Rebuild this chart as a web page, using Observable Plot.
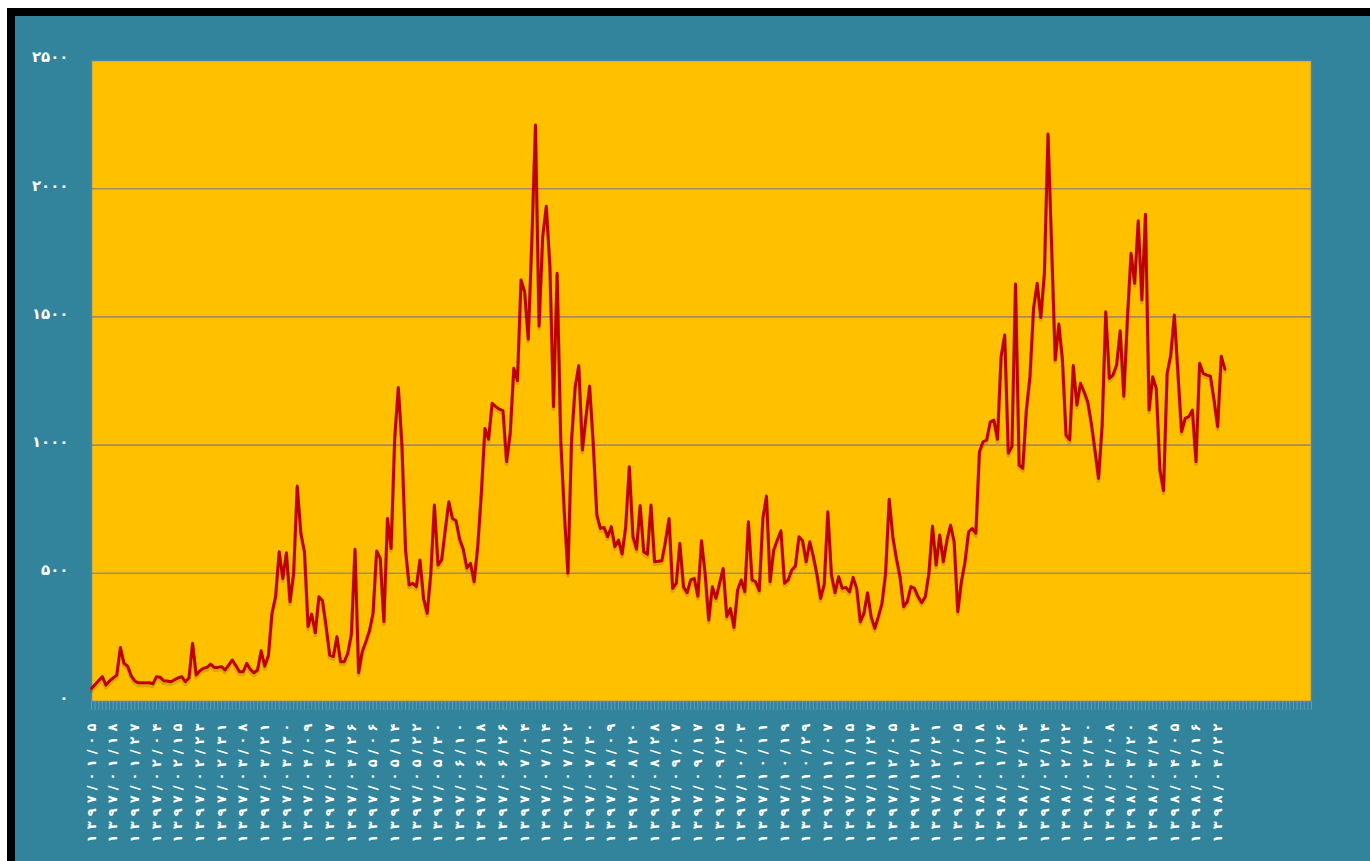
<!DOCTYPE html>
<html><head><meta charset="utf-8">
<script src="https://cdn.jsdelivr.net/npm/d3@7"></script>
<script src="https://cdn.jsdelivr.net/npm/@observablehq/plot@0.6"></script>
<style>
html,body{margin:0;padding:0;background:#fff;width:1370px;height:861px;overflow:hidden;}
#frame{position:absolute;left:7px;top:8px;width:1363px;height:853px;background:#000;}
#chart{position:absolute;left:15px;top:16px;width:1355px;height:845px;background:#31849B;}
</style></head><body><div id="frame"></div><div id="chart"></div>
<script>
const values = [
  51, 66, 82, 97, 64, 80, 92, 103, 211, 149,
  138, 100, 80, 73, 73, 73, 73, 69, 97, 95,
  81, 80, 77, 85, 92, 97, 77, 92, 227, 103,
  120, 130, 133, 146, 133, 133, 136, 123, 142, 162,
  140, 116, 116, 149, 125, 112, 123, 198, 138, 178,
  344, 409, 584, 480, 580, 389, 500, 840, 656, 584,
  292, 341, 268, 409, 393, 292, 181, 175, 253, 155,
  155, 188, 263, 594, 112, 194, 233, 276, 344, 587,
  558, 311, 714, 597, 1026, 1225, 1000, 591, 454, 461,
  448, 552, 402, 344, 500, 766, 532, 552, 669, 779,
  714, 705, 633, 594, 521, 539, 467, 604, 812, 1065,
  1023, 1163, 1150, 1140, 1134, 935, 1046, 1300, 1251, 1644,
  1598, 1413, 1800, 2248, 1464, 1813, 1932, 1696, 1150, 1670,
  1020, 734, 500, 1020, 1228, 1310, 981, 1111, 1230, 1007,
  727, 675, 679, 643, 682, 604, 630, 575, 682, 916,
  643, 594, 764, 584, 574, 766, 545, 547, 549, 623,
  714, 441, 461, 617, 448, 424, 474, 480, 411, 627,
  500, 318, 448, 402, 461, 519, 331, 363, 289, 435,
  474, 428, 701, 474, 467, 432, 714, 801, 467, 591,
  630, 666, 461, 474, 513, 528, 643, 627, 545, 623,
  565, 494, 402, 457, 740, 494, 424, 487, 441, 445,
  428, 484, 441, 311, 344, 424, 331, 285, 331, 383,
  500, 789, 643, 558, 487, 370, 389, 448, 441, 409,
  385, 409, 500, 684, 532, 649, 545, 630, 688, 623,
  350, 467, 545, 662, 675, 656, 974, 1013, 1020, 1091,
  1098, 1023, 1345, 1429, 968, 994, 1628, 922, 909, 1137,
  1267, 1534, 1631, 1498, 1670, 2213, 1774, 1332, 1472, 1332,
  1039, 1020, 1310, 1156, 1241, 1208, 1169, 1085, 981, 870,
  1078, 1520, 1260, 1273, 1312, 1446, 1191, 1494, 1748, 1631,
  1875, 1566, 1900, 1137, 1267, 1221, 903, 822, 1280, 1351,
  1507, 1280, 1052, 1104, 1111, 1137, 935, 1319, 1280, 1273,
  1269, 1176, 1072, 1347, 1296
];

const dateLabels = [
  "۱۳۹۷/۰۱/۰۵","۱۳۹۷/۰۱/۱۸","۱۳۹۷/۰۱/۲۷","۱۳۹۷/۰۲/۰۴","۱۳۹۷/۰۲/۱۵","۱۳۹۷/۰۲/۲۳",
  "۱۳۹۷/۰۲/۳۱","۱۳۹۷/۰۳/۰۸","۱۳۹۷/۰۳/۲۱","۱۳۹۷/۰۳/۳۰","۱۳۹۷/۰۴/۰۹","۱۳۹۷/۰۴/۱۷",
  "۱۳۹۷/۰۴/۲۶","۱۳۹۷/۰۵/۰۶","۱۳۹۷/۰۵/۱۴","۱۳۹۷/۰۵/۲۲","۱۳۹۷/۰۵/۳۰","۱۳۹۷/۰۶/۱۰",
  "۱۳۹۷/۰۶/۱۸","۱۳۹۷/۰۶/۲۶","۱۳۹۷/۰۷/۰۴","۱۳۹۷/۰۷/۱۴","۱۳۹۷/۰۷/۲۲","۱۳۹۷/۰۷/۳۰",
  "۱۳۹۷/۰۸/۰۹","۱۳۹۷/۰۸/۲۰","۱۳۹۷/۰۸/۲۸","۱۳۹۷/۰۹/۰۷","۱۳۹۷/۰۹/۱۷","۱۳۹۷/۰۹/۲۵",
  "۱۳۹۷/۱۰/۰۳","۱۳۹۷/۱۰/۱۱","۱۳۹۷/۱۰/۱۹","۱۳۹۷/۱۰/۲۹","۱۳۹۷/۱۱/۰۷","۱۳۹۷/۱۱/۱۵",
  "۱۳۹۷/۱۱/۲۷","۱۳۹۷/۱۲/۰۵","۱۳۹۷/۱۲/۱۳","۱۳۹۷/۱۲/۲۱","۱۳۹۸/۰۱/۰۵","۱۳۹۸/۰۱/۱۸",
  "۱۳۹۸/۰۱/۲۶","۱۳۹۸/۰۲/۰۴","۱۳۹۸/۰۲/۱۴","۱۳۹۸/۰۲/۲۲","۱۳۹۸/۰۲/۳۰","۱۳۹۸/۰۳/۰۸",
  "۱۳۹۸/۰۳/۲۰","۱۳۹۸/۰۳/۲۸","۱۳۹۸/۰۴/۰۵","۱۳۹۸/۰۴/۱۶","۱۳۹۸/۰۴/۲۲"
];

const yTicks = [0, 500, 1000, 1500, 2000, 2500];
const yTickLabels = ["۰", "۵۰۰", "۱۰۰۰", "۱۵۰۰", "۲۰۰۰", "۲۵۰۰"];
const gridValues = [500, 1000, 1500, 2000];
const labelStep = 6;
const categoryCount = 339;

const data = values.map((v, i) => ({i, v}));

const chart = Plot.plot({
  width: 1355,
  height: 845,
  marginLeft: 76,
  marginRight: 59,
  marginTop: 44,
  marginBottom: 160,
  style: {background: "transparent", fontFamily: "'DejaVu Sans', sans-serif", color: "#ffffff", overflow: "visible"},
  x: {domain: [0, categoryCount - 1], axis: null},
  y: {domain: [0, 2500], axis: null},
  marks: [
    Plot.frame({fill: "#FFC000"}),
    Plot.ruleY(gridValues, {stroke: "#a98a5c", strokeWidth: 1.6}),
    Plot.frame({stroke: "#4F81BD", strokeWidth: 1.5}),
    Plot.axisX({ticks: d3.range(0, categoryCount), tickSize: 9, tickFormat: () => "", label: null, stroke: "#5b9fb4", strokeWidth: 1}),
    Plot.axisX({
      ticks: d3.range(0, values.length, labelStep),
      tickSize: 0, tickPadding: 22, tickRotate: -90, label: null,
      tickFormat: d => dateLabels[d / labelStep],
      fill: "#ffffff", fontSize: 13, fontWeight: "bold"
    }),
    Plot.axisY({
      ticks: yTicks, tickSize: 0, tickPadding: 23, label: null,
      tickFormat: d => yTickLabels[yTicks.indexOf(d)],
      fill: "#ffffff", fontSize: 15, fontWeight: "bold", dy: -3
    }),
    Plot.line(data, {x: "i", y: "v", dy: 2.5, stroke: "#6b4a00", strokeOpacity: 0.22, strokeWidth: 4}),
    Plot.line(data, {x: "i", y: "v", stroke: "#C00000", strokeWidth: 3, strokeLinejoin: "round"})
  ]
});

// spread the characters of the rotated date labels (letter-spacing is ignored for Arabic-script digits)
d3.select(chart).selectAll('g[aria-label="x-axis tick label"] text').each(function() {
  const el = this.querySelector("tspan") || this;
  const n = el.textContent.length;
  if (!n) return;
  const gaps = Array.from({length: n}, (_, k) => (k === 0 ? 0 : 5.1));
  el.setAttribute("dx", gaps.join(" "));
});
document.getElementById("chart").appendChild(chart);
</script>
</body></html>
